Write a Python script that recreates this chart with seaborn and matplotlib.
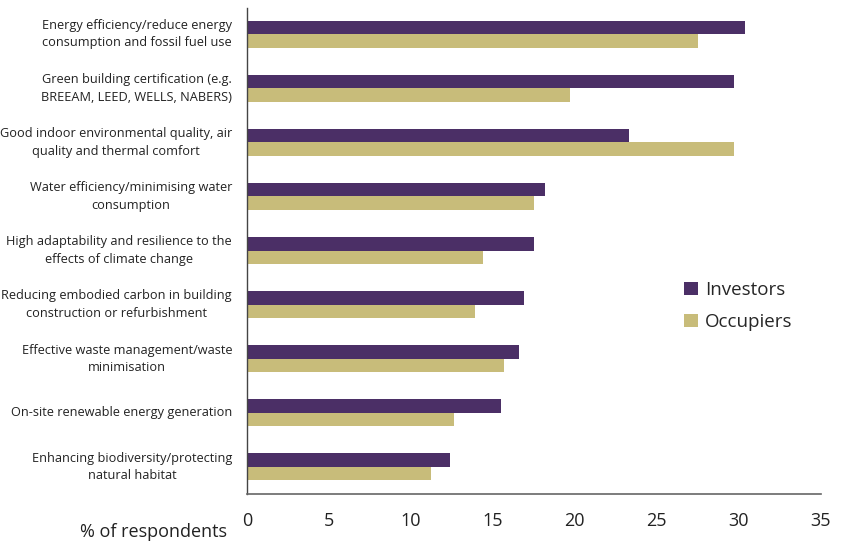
import matplotlib
matplotlib.use("Agg")
import matplotlib.pyplot as plt
import seaborn as sns
import pandas as pd

categories = [
    "Energy efficiency/reduce energy\nconsumption and fossil fuel use",
    "Green building certification (e.g.\nBREEAM, LEED, WELLS, NABERS)",
    "Good indoor environmental quality, air\nquality and thermal comfort",
    "Water efficiency/minimising water\nconsumption",
    "High adaptability and resilience to the\neffects of climate change",
    "Reducing embodied carbon in building\nconstruction or refurbishment",
    "Effective waste management/waste\nminimisation",
    "On-site renewable energy generation",
    "Enhancing biodiversity/protecting\nnatural habitat",
]
investors = [30.4, 29.7, 23.3, 18.2, 17.5, 16.9, 16.6, 15.5, 12.4]
occupiers = [27.5, 19.7, 29.7, 17.5, 14.4, 13.9, 15.7, 12.6, 11.2]
groups = ["Investors", "Occupiers"]
colors = ["#4B2F66", "#C8BC7A"]

df = pd.DataFrame({
    "category": categories * 2,
    "value": investors + occupiers,
    "group": [groups[0]] * len(categories) + [groups[1]] * len(categories),
})

sns.set_style("white")
plt.rcParams["font.family"] = ["Open Sans", "DejaVu Sans"]

fig, ax = plt.subplots(figsize=(8.47, 5.51), dpi=100)
fig.subplots_adjust(left=0.2916, right=0.969, top=0.985, bottom=0.1035)

sns.barplot(data=df, y="category", x="value", hue="group", orient="h",
            palette=colors, saturation=1, width=0.5, ax=ax, linewidth=0)

ax.set_xlim(0, 35)
ax.set_ylim(8.5, -0.48)
ax.set_xticks(range(0, 36, 5))
ax.tick_params(axis="x", length=0, pad=13, labelsize=13, colors="#222222")

# category labels: right aligned block, lines centred within it
ax.set_yticks(range(len(categories)))
ax.set_yticklabels([])
ax.tick_params(axis="y", length=0)
trans = ax.get_yaxis_transform()
for i, cat in enumerate(categories):
    ax.text(-0.026, i, cat, transform=trans, ha="right", va="center",
            multialignment="center", fontsize=9.2, color="#222222",
            linespacing=1.45)

ax.set_xlabel("")
ax.set_ylabel("")
for s in ["top", "right"]:
    ax.spines[s].set_visible(False)
ax.spines["left"].set_color("#444444")
ax.spines["bottom"].set_color("#666666")
ax.spines["left"].set_linewidth(1)
ax.spines["bottom"].set_linewidth(1.2)

fig.text(0.095, 0.035, "% of respondents", fontsize=13, color="#222222",
         ha="left", va="center")

leg = ax.legend(loc="center left", bbox_to_anchor=(0.733, 0.387), frameon=False,
                fontsize=13.5, handlelength=0.7, handleheight=0.7,
                handletextpad=0.4, labelspacing=0.75)

fig.savefig("out.png", dpi=100)
